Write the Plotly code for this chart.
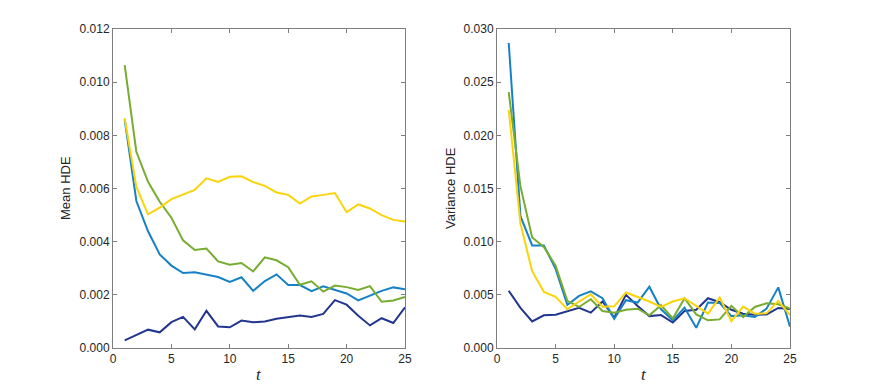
import plotly.graph_objects as go

t = list(range(1, 26))

mean_navy = [0.00029, 0.00048, 0.00069, 0.00059, 0.00097, 0.00117, 0.00070, 0.00140, 0.00081, 0.00078,
             0.00103, 0.00097, 0.00100, 0.00110, 0.00116, 0.00122, 0.00117, 0.00128, 0.00180, 0.00163,
             0.00121, 0.00085, 0.00112, 0.00094, 0.00153]
mean_blue = [0.00860, 0.00553, 0.00439, 0.00352, 0.00310, 0.00282, 0.00285, 0.00276, 0.00267, 0.00249,
             0.00266, 0.00215, 0.00252, 0.00277, 0.00237, 0.00237, 0.00214, 0.00232, 0.00218, 0.00205,
             0.00179, 0.00196, 0.00215, 0.00228, 0.00221]
mean_green = [0.01064, 0.00738, 0.00625, 0.00550, 0.00490, 0.00405, 0.00369, 0.00374, 0.00326, 0.00313,
              0.00320, 0.00288, 0.00341, 0.00330, 0.00304, 0.00238, 0.00251, 0.00212, 0.00235, 0.00229,
              0.00218, 0.00233, 0.00174, 0.00179, 0.00192]
mean_yellow = [0.00865, 0.00606, 0.00503, 0.00528, 0.00560, 0.00579, 0.00595, 0.00638, 0.00625, 0.00644,
               0.00646, 0.00624, 0.00610, 0.00585, 0.00576, 0.00543, 0.00570, 0.00576, 0.00583, 0.00511,
               0.00540, 0.00525, 0.00500, 0.00482, 0.00476]

var_navy = [0.00538, 0.00377, 0.00250, 0.00307, 0.00313, 0.00345, 0.00377, 0.00332, 0.00437, 0.00285,
            0.00500, 0.00396, 0.00300, 0.00310, 0.00240, 0.00348, 0.00360, 0.00468, 0.00430, 0.00360,
            0.00323, 0.00313, 0.00316, 0.00377, 0.00367]
var_blue = [0.02868, 0.01240, 0.00965, 0.00965, 0.00744, 0.00405, 0.00490, 0.00532, 0.00468, 0.00275,
            0.00450, 0.00427, 0.00576, 0.00364, 0.00260, 0.00380, 0.00190, 0.00427, 0.00424, 0.00300,
            0.00307, 0.00291, 0.00370, 0.00570, 0.00200]
var_green = [0.02407, 0.01520, 0.01040, 0.00950, 0.00775, 0.00443, 0.00386, 0.00459, 0.00348, 0.00332,
             0.00360, 0.00370, 0.00307, 0.00402, 0.00278, 0.00468, 0.00316, 0.00260, 0.00269, 0.00396,
             0.00291, 0.00386, 0.00421, 0.00411, 0.00370]
var_yellow = [0.02240, 0.01170, 0.00722, 0.00528, 0.00481, 0.00364, 0.00437, 0.00506, 0.00389, 0.00392,
              0.00522, 0.00481, 0.00437, 0.00386, 0.00437, 0.00468, 0.00396, 0.00323, 0.00475, 0.00253,
              0.00389, 0.00323, 0.00326, 0.00443, 0.00310]

mean_ticks = [0.000, 0.002, 0.004, 0.006, 0.008, 0.010, 0.012]
var_ticks = [0.000, 0.005, 0.010, 0.015, 0.020, 0.025, 0.030]
x_ticks = [0, 5, 10, 15, 20, 25]

colors = {"navy": "#22368F", "blue": "#1681C6", "green": "#77AC30", "yellow": "#FAD40A"}

# page has an 8px body margin; figure placed at (8, 8)
OFF = 8
W, H = 872 - 2 * OFF, 391 - 2 * OFF


def px_x(p):
    return (p - OFF) / W


def px_y(p):
    return 1 - (p - OFF) / H


fig = go.Figure()
order = [("navy", mean_navy, var_navy), ("blue", mean_blue, var_blue),
         ("green", mean_green, var_green), ("yellow", mean_yellow, var_yellow)]
for name, m, v in order:
    fig.add_trace(go.Scatter(x=t, y=m, mode="lines", line=dict(color=colors[name], width=2),
                             xaxis="x", yaxis="y", showlegend=False))
    fig.add_trace(go.Scatter(x=t, y=v, mode="lines", line=dict(color=colors[name], width=2),
                             xaxis="x2", yaxis="y2", showlegend=False))

axis_common = dict(showline=True, linecolor="#7f7f7f", linewidth=1, mirror="ticks",
                   ticks="inside", ticklen=4, tickcolor="#7f7f7f", showgrid=False, zeroline=False,
                   automargin=False,
                   tickfont=dict(family="Liberation Sans, Arial, sans-serif", size=12, color="#262626"))

lab_font = dict(family="Liberation Sans, Arial, sans-serif", size=13, color="#262626")
t_font = dict(family="Liberation Serif, Times New Roman, serif", size=17, color="#262626")

fig.update_layout(
    width=W, height=H,
    margin=dict(l=0, r=0, t=0, b=0, pad=0, autoexpand=False),
    paper_bgcolor="white", plot_bgcolor="white",
    xaxis=dict(domain=[px_x(113), px_x(405)], range=[0, 25], tickvals=x_ticks, anchor="y", **axis_common),
    yaxis=dict(domain=[px_y(348), px_y(29)], range=[0, 0.012], tickvals=mean_ticks,
               tickformat=".3f", anchor="x", **axis_common),
    xaxis2=dict(domain=[px_x(497), px_x(790)], range=[0, 25], tickvals=x_ticks, anchor="y2", **axis_common),
    yaxis2=dict(domain=[px_y(348), px_y(29)], range=[0, 0.030], tickvals=var_ticks,
                tickformat=".3f", anchor="x2", **axis_common),
    annotations=[
        dict(text="Mean HDE", x=px_x(65), y=px_y(188), xref="paper", yref="paper", textangle=-90,
             xanchor="center", yanchor="middle", showarrow=False, font=lab_font),
        dict(text="Variance HDE", x=px_x(450), y=px_y(188), xref="paper", yref="paper", textangle=-90,
             xanchor="center", yanchor="middle", showarrow=False, font=lab_font),
        dict(text="<i>t</i>", x=px_x(259), y=px_y(374), xref="paper", yref="paper",
             xanchor="center", yanchor="middle", showarrow=False, font=t_font),
        dict(text="<i>t</i>", x=px_x(644), y=px_y(374), xref="paper", yref="paper",
             xanchor="center", yanchor="middle", showarrow=False, font=t_font),
    ],
)

fig.write_html("out.html")
